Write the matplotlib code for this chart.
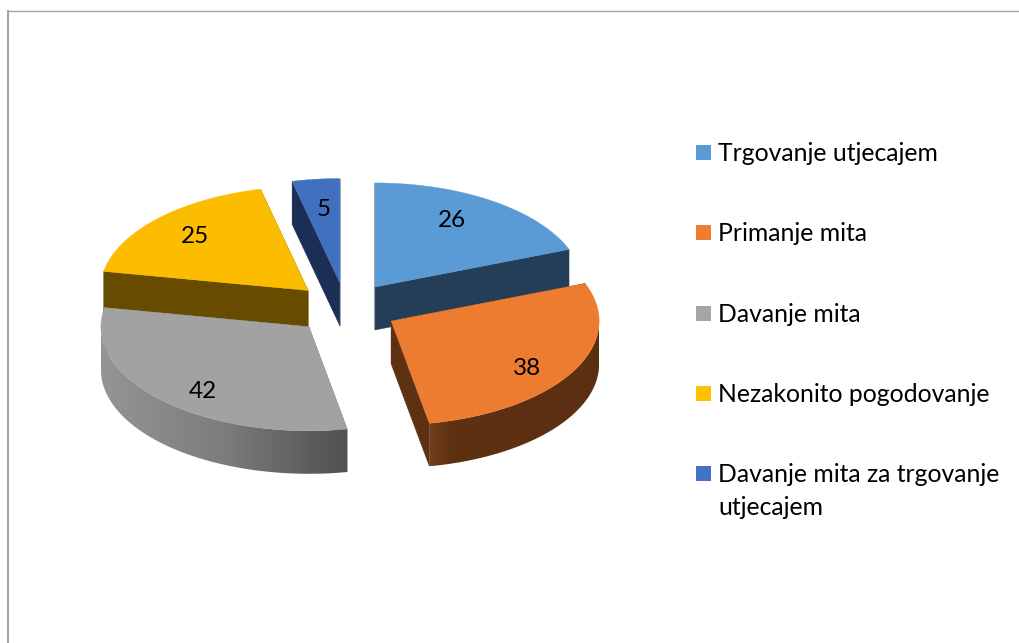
import numpy as np
import matplotlib
matplotlib.use('Agg')
import matplotlib.pyplot as plt
from matplotlib.patches import Polygon, Rectangle
from matplotlib.colors import LinearSegmentedColormap

categories = ['Trgovanje utjecajem', 'Primanje mita', 'Davanje mita',
              'Nezakonito pogodovanje', 'Davanje mita za trgovanje\nutjecajem']
values = [26, 38, 42, 25, 5]
top_colors = ['#5b9bd5', '#ec7c30', '#a2a2a2', '#fcbd00', '#4270c0']
legend_colors = ['#5b9bd5', '#ed7d31', '#a5a5a5', '#ffc000', '#4472c4']
cut_colors = ['#243e58', '#5f3113', '#6e6e6e', '#674c00', '#1b2e55']
# colour stops of the outer wall, left to right (only the two front slices show it)
wall_stops = {1: [(0, '#744020'), (0.12, '#5f3113'), (1, '#5c2f12')],
              2: [(0, '#959595'), (0.5, '#7c7c7c'), (1, '#505050')]}

# label placement for each slice: fraction of radius, turn from mid angle in degrees
label_r = [0.75, 0.79, 0.79, 0.765, 0.725]
label_turn = [-5, 5, -5, 1, 0.5]

cx, cy = 345.7, 308.4  # pie centre in pixels
rx, ry = 208, 104
depth = 43
explode = 0.25

plt.rcParams['font.family'] = ['Lato', 'DejaVu Sans']
fig = plt.figure(figsize=(10.19, 6.43), dpi=100, facecolor='w')
ax = fig.add_axes([0, 0, 1, 1])
ax.axis('off')

# frame of the chart area
ax.plot([8, 8], [643, 10], color='#a3a3a3', lw=1.45, solid_capstyle='butt')
ax.plot([7, 1019], [10.8, 10.8], color='#a3a3a3', lw=1.0, solid_capstyle='butt')

edges = np.cumsum([0] + values) / sum(values) * 2 * np.pi


def rim(ox, oy, a):
    return ox + rx * np.sin(a), oy - ry * np.cos(a)


def draw_slice(i, z):
    a0, a1 = edges[i], edges[i + 1]
    mid = (a0 + a1) / 2
    ox = cx + explode * rx * np.sin(mid)
    oy = cy - explode * ry * np.cos(mid)
    # cut walls
    for a in (a0, a1):
        x, y = rim(ox, oy, a)
        ax.add_patch(Polygon([(ox, oy), (x, y), (x, y + depth), (ox, oy + depth)],
                             fc=cut_colors[i], ec=cut_colors[i], lw=0.3, zorder=z))
    # outer wall, only the front half shows
    lo, hi = max(a0, np.pi / 2), min(a1, 3 * np.pi / 2)
    if hi > lo and i in wall_stops:
        s = np.linspace(lo, hi, 120)
        xs, ys = rim(ox, oy, s)
        pts = list(zip(xs, ys)) + list(zip(xs[::-1], ys[::-1] + depth))
        clip = Polygon(pts, fc='none', ec='none', transform=ax.transData)
        ax.add_patch(clip)
        cmap = LinearSegmentedColormap.from_list('wall', wall_stops[i])
        img = ax.imshow(np.linspace(0, 1, 256).reshape(1, -1), cmap=cmap, aspect='auto',
                        extent=[xs.min(), xs.max(), ys.max() + depth, ys.min()], zorder=z)
        img.set_clip_path(clip)
    # top face
    t = np.linspace(a0, a1, 100)
    xs, ys = rim(ox, oy, t)
    pts = [(ox, oy)] + list(zip(xs, ys))
    ax.add_patch(Polygon(pts, fc=top_colors[i], ec=top_colors[i], lw=0.3, zorder=z))
    # value label
    a = mid + np.radians(label_turn[i])
    ax.text(ox + label_r[i] * rx * np.sin(a), oy - label_r[i] * ry * np.cos(a) + 1.5, str(values[i]),
            ha='center', va='center', fontsize=17.5, color='#000000', zorder=10)


# back slices first
for z, i in enumerate([4, 3, 0, 2, 1]):
    draw_slice(i, z + 2)

# legend
leg_y = [152.5, 232.5, 313.5, 393.5, 473.5]
for name, col, y in zip(categories, legend_colors, leg_y):
    ax.add_patch(Rectangle((696, y - 7.5), 15, 15, fc=col, ec='none', zorder=10))
    ax.text(718, y - 10.5, name, ha='left', va='top', fontsize=17.8, color='#000000',
            linespacing=1.55, zorder=10)

ax.set_xlim(0, 1019)
ax.set_ylim(643, 0)
fig.savefig('out.png', dpi=100)
